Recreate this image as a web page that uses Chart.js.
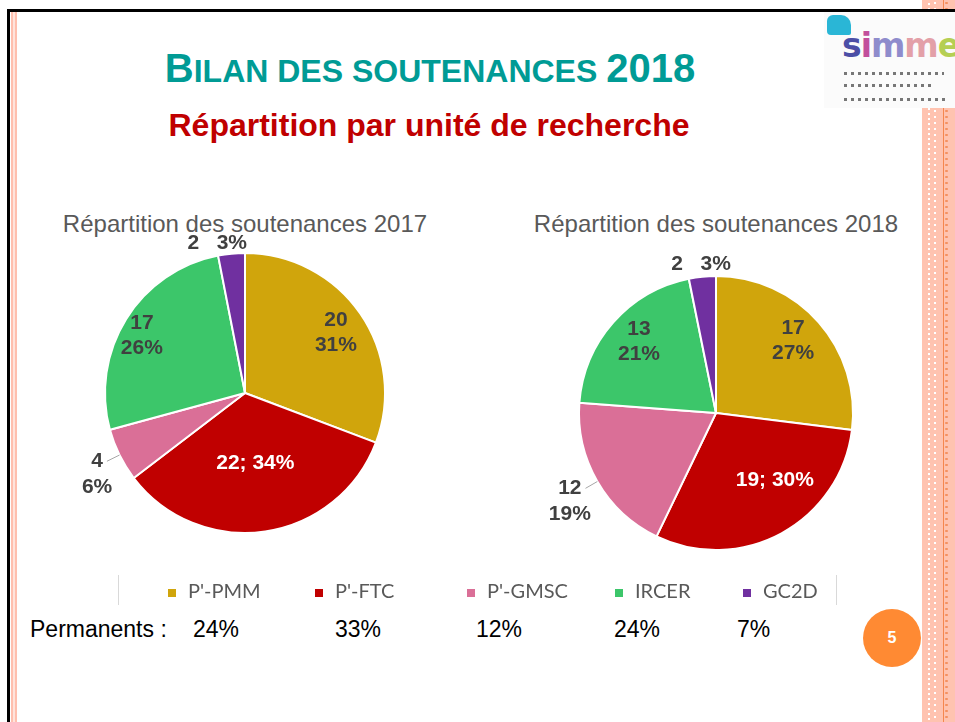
<!DOCTYPE html>
<html lang="fr">
<head>
<meta charset="UTF-8">
<title>Bilan des soutenances 2018</title>
<script src="https://cdn.jsdelivr.net/npm/chart.js"></script>
<style>
  body { margin:0; width:955px; height:722px; position:relative; overflow:hidden; background:#fff;
         font-family:"Liberation Sans", Arial, sans-serif; }
  .abs { position:absolute; }
  /* cadre de la diapo */
  #topLine  { left:7px; top:9px; width:948px; height:3px; background:#000; }
  #leftLine { left:7px; top:9px; width:3px; height:713px; background:#000; }
  #leftPink { left:11px; top:12px; width:6px; height:710px;
              background:linear-gradient(to right,#ffbfae 0 2px,#ffe4dc 2px 4px,#ffbfae 4px 6px); }
  #strip { left:922px; top:0; width:33px; height:722px;
    background:
      radial-gradient(circle,#f59060 0 1px,transparent 1.5px) 22px 0/5px 6px repeat-y,
      radial-gradient(circle,#fff 0 1px,transparent 1.5px) 10px 0/6px 6px repeat-y,
      linear-gradient(to right,#ffc3b0 0 3px,transparent 3px 8px,#ffc3b0 8px 21px,#f5874f 21px 22px,#ffc3b0 22px 33px),
      repeating-linear-gradient(to bottom,#ffc3b0 0 3px,#fff 3px 5px); }
  #stripTicks { left:925px; top:0; width:3px; height:722px; background:#ffc3b0; }
  #logo { left:824px; top:12px; width:131px; height:96px; background:#fbfbfb; }
  #logo .sq { position:absolute; left:3px; top:3px; width:24px; height:20px; background:#2ab6d6; border-radius:6px 10px 2px 4px; }
  #logo .word { position:absolute; left:18px; top:14px; font:bold 33px "DejaVu Sans", sans-serif; letter-spacing:-1px; }
  #logo .ln { position:absolute; left:20px; height:3px; background:repeating-linear-gradient(to right,#777 0 3px,transparent 3px 7px); }

  #title { left:0; width:860px; top:48px; text-align:center; color:#009b95; font-weight:bold;
           font-size:40px; line-height:40px; white-space:nowrap; }
  #title .sc { font-size:32px; }
  #subtitle { left:0; width:858px; top:109px; text-align:center; color:#c00000; font-weight:bold;
              font-size:32px; line-height:32px; }
  .ctitle { width:420px; text-align:center; color:#595959; font-size:24px; line-height:24px; top:212px; }
  .pie { width:400px; height:360px; }

  #legend { left:118px; top:575px; width:717px; height:30px;
            border-left:1px solid #d9d9d9; border-right:1px solid #d9d9d9; }
  .item { position:absolute; top:3px; font:20px Lato, "Open Sans", sans-serif; color:#595959; white-space:nowrap; line-height:24px; }
  .item i { display:inline-block; width:8px; height:8px; margin-right:12px; vertical-align:1px; }
  .perm { top:618px; font-size:23px; line-height:23px; color:#000; white-space:nowrap; }

  #badge { left:863px; top:609px; width:58px; height:58px; border-radius:50%; background:#ff8a33;
           color:#fff; font-weight:bold; font-size:16px; line-height:58px; text-align:center; }
</style>
</head>
<body>
<div class="abs" id="strip"></div>
<div class="abs" id="stripTicks"></div>
<div class="abs" id="logo">
  <div class="sq"></div>
  <div class="word"><span style="color:#4c4fa6">s</span><span style="color:#c24f9c">i</span><span style="color:#8f8ccc">m</span><span style="color:#e3a0a8">m</span><span style="color:#b5cf54">e</span></div>
  <div class="ln" style="top:60px;width:100px"></div>
  <div class="ln" style="top:72px;width:90px"></div>
  <div class="ln" style="top:86px;width:105px"></div>
</div>
<div class="abs" id="topLine"></div>
<div class="abs" id="leftLine"></div>
<div class="abs" id="leftPink"></div>

<div class="abs" id="title">B<span class="sc">ILAN DES SOUTENANCES </span>2018</div>
<div class="abs" id="subtitle">Répartition par unité de recherche</div>

<div class="abs ctitle" id="t2017" style="left:35px"></div>
<div class="abs ctitle" id="t2018" style="left:506px"></div>

<div class="abs pie" style="left:45px;top:213px"><canvas id="pie2017"></canvas></div>
<div class="abs pie" style="left:516px;top:233px"><canvas id="pie2018"></canvas></div>

<div class="abs" id="legend"></div>
<div class="abs perm" style="left:30px">Permanents :</div>
<div id="permRow"></div>

<div class="abs" id="badge">5</div>

<script>
const unites = ["P'-PMM", "P'-FTC", "P'-GMSC", "IRCER", "GC2D"];
const couleurs = ['#d0a50c', '#c00000', '#da6f97', '#3cc66a', '#7030a0'];
const soutenances2017 = [20, 22, 4, 17, 2];
const soutenances2018 = [17, 19, 12, 13, 2];
const permanents = ['24%', '33%', '12%', '24%', '7%'];
const titres = ['Répartition des soutenances 2017', 'Répartition des soutenances 2018'];

// placement des étiquettes (mode, distance au centre en rayons, décalage d'angle en degrés)
const etiq2017 = [
  {mode:'two', r:0.78, da:1},
  {mode:'one', r:0.51, da:0},
  {mode:'out', r:1.1,  da:0},
  {mode:'two', r:0.845, da:-2.5},
  {mode:'top', r:1.085, da:-5}
];
const etiq2018 = [
  {mode:'two', r:0.775, da:-2},
  {mode:'one', r:0.65, da:-12.8},
  {mode:'out', r:1.1,  da:0},
  {mode:'two', r:0.77, da:1.7},
  {mode:'top', r:1.095, da:0}
];

document.getElementById('t2017').textContent = titres[0];
document.getElementById('t2018').textContent = titres[1];

// légende commune
const legendX = [49, 196, 348, 496, 624];
const legend = document.getElementById('legend');
unites.forEach((u, i) => {
  const d = document.createElement('div');
  d.className = 'item';
  d.style.left = legendX[i] + 'px';
  d.innerHTML = '<i style="background:' + couleurs[i] + '"></i>' + u;
  legend.appendChild(d);
});

// ligne des permanents
const permX = [193, 335, 476, 614, 737];
const permRow = document.getElementById('permRow');
permanents.forEach((p, i) => {
  const d = document.createElement('div');
  d.className = 'abs perm';
  d.style.left = permX[i] + 'px';
  d.textContent = p;
  permRow.appendChild(d);
});

// étiquettes des parts
const sliceLabels = {
  id: 'sliceLabels',
  afterDatasetsDraw(chart, args, opts) {
    const ctx = chart.ctx;
    const ds = chart.data.datasets[0];
    const total = ds.data.reduce((a, b) => a + b, 0);
    ctx.save();
    ctx.font = 'bold 21px "Liberation Sans", Arial, sans-serif';
    ctx.textBaseline = 'middle';
    chart.getDatasetMeta(0).data.forEach((arc, i) => {
      const c = opts.place[i];
      const v = ds.data[i];
      const pct = Math.round(v / total * 100) + '%';
      const a = (arc.startAngle + arc.endAngle) / 2 + c.da * Math.PI / 180;
      const R = arc.outerRadius;
      const x = arc.x + Math.cos(a) * R * c.r;
      const y = arc.y + Math.sin(a) * R * c.r;
      ctx.fillStyle = '#404040';
      ctx.textAlign = 'center';
      if (c.mode === 'two') {
        ctx.fillText(String(v), x, y - 12);
        ctx.fillText(pct, x, y + 13);
      } else if (c.mode === 'one') {
        ctx.fillStyle = '#fff';
        ctx.fillText(v + '; ' + pct, x, y);
      } else if (c.mode === 'top') {
        ctx.fillText(v + '   ' + pct, x, y);
      } else {
        ctx.strokeStyle = '#a6a6a6';
        ctx.lineWidth = 1;
        ctx.beginPath();
        ctx.moveTo(arc.x + Math.cos(a) * R, arc.y + Math.sin(a) * R);
        ctx.lineTo(x, y);
        ctx.stroke();
        const w = ctx.measureText(String(v)).width;
        const cx = x - 4 - w / 2;
        ctx.fillText(String(v), cx, y);
        ctx.fillText(pct, cx, y + 26);
      }
    });
    ctx.restore();
  }
};

function pie(id, values, radius, place) {
  new Chart(document.getElementById(id), {
    type: 'pie',
    data: {
      labels: unites,
      datasets: [{
        data: values,
        backgroundColor: couleurs,
        borderColor: '#fff',
        borderWidth: 2,
        radius: radius
      }]
    },
    options: {
      responsive: false,
      animation: false,
      layout: { padding: { left: 60, right: 60, top: 40, bottom: 40 } },
      plugins: {
        legend: { display: false },
        tooltip: { enabled: false },
        sliceLabels: { place: place }
      }
    },
    plugins: [sliceLabels]
  });
}

document.querySelectorAll('canvas').forEach(c => { c.width = 400; c.height = 360; });
pie('pie2017', soutenances2017, 140, etiq2017);
pie('pie2018', soutenances2018, 137, etiq2018);
</script>
</body>
</html>
